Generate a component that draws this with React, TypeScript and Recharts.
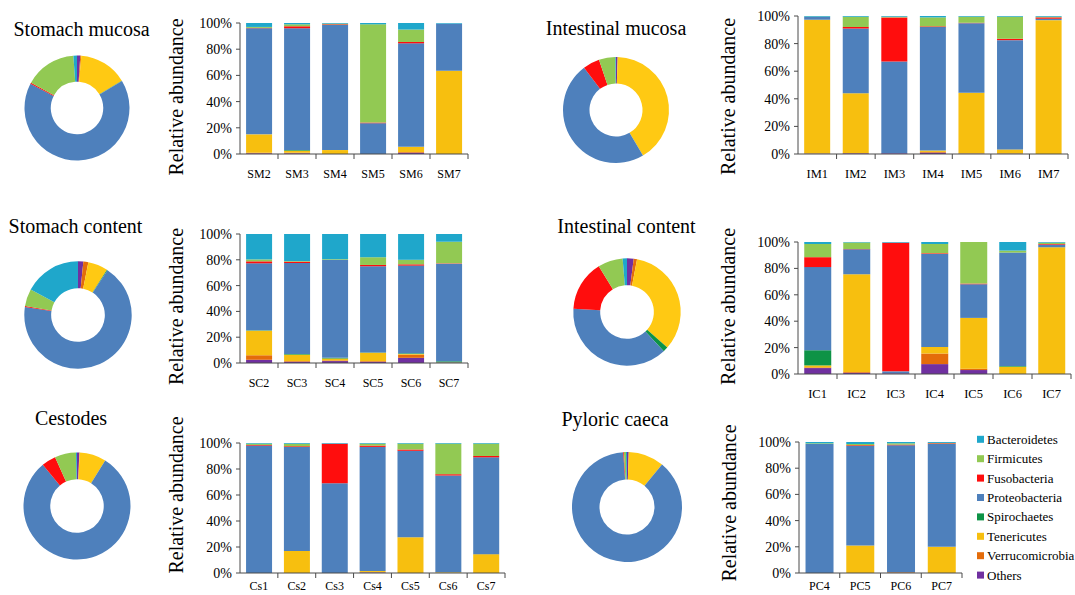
import React from 'react';
import { BarChart, Bar, XAxis, YAxis, PieChart, Pie, Cell } from 'recharts';

// Stack order (bottom -> top) and pie order (clockwise from 12 o'clock)
const phyla = ['Others', 'Verrucomicrobia', 'Tenericutes', 'Spirochaetes', 'Proteobacteria', 'Fusobacteria', 'Firmicutes', 'Bacteroidetes'];
const barColors = ['#7030A0', '#E46C0A', '#F7BF0F', '#0E9346', '#4E80BC', '#FF0D0D', '#92C953', '#1FA7CB'];
const pieColors = ['#7030A0', '#E46C0A', '#FFC913', '#0E9346', '#4E80BC', '#FF0D0D', '#92C953', '#1FA7CB'];
const legendLabels = ['Bacteroidetes', 'Firmicutes', 'Fusobacteria', 'Proteobacteria', 'Spirochaetes', 'Tenericutes', 'Verrucomicrobia', 'Others'];
const percentTicks = [0, 0.2, 0.4, 0.6, 0.8, 1];

// values per sample: [Others, Verrucomicrobia, Tenericutes, Spirochaetes, Proteobacteria, Fusobacteria, Firmicutes, Bacteroidetes]
const smSamples = ['SM2', 'SM3', 'SM4', 'SM5', 'SM6', 'SM7'];
const smValues = [
  [0.5, 0.5, 14, 0, 81, 0.3, 0.7, 3],
  [0.5, 0.5, 1.5, 0.5, 93, 1.5, 1.5, 1],
  [0, 0, 3, 0, 95.5, 0.5, 0.5, 0.5],
  [0, 0, 0, 0, 23.5, 0.5, 75, 1],
  [1, 0.5, 4, 0, 79, 1, 9.5, 5],
  [0, 0, 63.5, 0, 36, 0, 0, 0.5],
];
const smPie = [1, 0.3, 15, 0.1, 66.3, 0.4, 15.9, 1.1];

const imSamples = ['IM1', 'IM2', 'IM3', 'IM4', 'IM5', 'IM6', 'IM7'];
const imValues = [
  [0.3, 0, 97, 0, 2, 0, 0.2, 0.5],
  [0.5, 0, 43.5, 0, 47, 1, 7.5, 0.5],
  [0.5, 0, 0, 0, 66.5, 32, 0.5, 0.5],
  [1, 0.5, 1, 0, 89.5, 0.5, 6.5, 1],
  [0.3, 0, 44, 0, 50.5, 0.3, 4.4, 0.5],
  [0.3, 0, 3, 0, 79.2, 1, 16, 0.5],
  [0, 0, 97, 0, 1, 1, 0.5, 0.5],
];
const imPie = [0.5, 0, 41, 0, 48.2, 5.1, 5, 0.2];

const scSamples = ['SC2', 'SC3', 'SC4', 'SC5', 'SC6', 'SC7'];
const scValues = [
  [2.5, 3.5, 19, 0.3, 52, 1.5, 1.5, 19.7],
  [1, 0.5, 5, 0.5, 70.5, 1, 0.5, 21],
  [1.5, 0.5, 1.5, 0.5, 76, 0, 0.5, 19.5],
  [1, 0.5, 6.5, 0.2, 66.8, 1, 6, 18],
  [4, 2.5, 0.5, 0.5, 68, 1, 3.5, 20],
  [0.3, 0, 0.2, 0.8, 75.7, 0.3, 16.7, 6],
];
const scPie = [1.6, 1.5, 6, 0.2, 68.3, 0.3, 5.2, 17.2];

const icSamples = ['IC1', 'IC2', 'IC3', 'IC4', 'IC5', 'IC6', 'IC7'];
const icValues = [
  [4.5, 0.5, 1.5, 11.5, 63, 7.5, 10, 1.5],
  [1, 0.5, 74, 0, 19, 0.2, 5, 0.3],
  [0.5, 0, 0, 0, 1.5, 97.5, 0, 0.5],
  [7.5, 8, 5, 0, 70.5, 0.5, 7, 1.5],
  [3, 1, 38.5, 0, 25.5, 0.5, 31.5, 0],
  [0, 0, 5.5, 0.5, 86, 0, 1.5, 6.5],
  [0, 0, 96, 0, 2, 0.5, 1, 0.5],
];
const icPie = [2, 1, 33.5, 1.5, 38, 15.2, 7.5, 1.3];

const csSamples = ['Cs1', 'Cs2', 'Cs3', 'Cs4', 'Cs5', 'Cs6', 'Cs7'];
const csValues = [
  [0, 0, 0, 0, 98, 0.5, 1, 0.5],
  [0, 0, 17, 0, 80, 0.5, 2, 0.5],
  [0, 0, 0, 0, 69, 30.5, 0, 0.5],
  [0.5, 0, 1, 0, 95.5, 1, 1.5, 0.5],
  [0, 0, 27.5, 0, 66.5, 1, 4.5, 0.5],
  [0, 0, 0.5, 0, 74.5, 1, 23.5, 0.5],
  [0, 0, 14.5, 0, 74.5, 1, 9.5, 0.5],
];
const csPie = [0.7, 0.1, 8, 0, 79.9, 4.3, 6.4, 0.3];

const pcSamples = ['PC4', 'PC5', 'PC6', 'PC7'];
const pcValues = [
  [0, 0, 0, 0, 98.5, 0, 0.5, 1],
  [0, 0, 21, 0, 76, 0.5, 1, 1.5],
  [0, 0.5, 0, 0, 97, 0.5, 1, 1],
  [0, 0, 20, 0, 78.5, 0.5, 0.3, 0.7],
];
const pcPie = [0.5, 0, 10.5, 0, 88, 0.2, 0.6, 0.3];

const SERIF = "'Liberation Serif', 'Times New Roman', Times, serif";
const AXIS = '#4a4a4a';

function makeTick(bandWidth: number, tm: number, fs: number) {
  return (props: any) => {
    const { x, y, payload } = props;
    const axisY = y - tm;
    const bx = x + bandWidth / 2;
    return (
      <g>
        <line x1={bx} y1={axisY} x2={bx} y2={axisY + 5} stroke={AXIS} />
        <text x={x} y={y} dy="0.71em" textAnchor="middle" fontSize={fs} fill="#000" style={{ fontFamily: SERIF }}>{payload.value}</text>
      </g>
    );
  };
}

function StackPanel({ samples, values, l, t, r, b, fs, tm }: any) {
  const YW = 60, MT = 10, MR = 12, XH = 30;
  const data = samples.map((s: string, i: number) => {
    const row: any = { name: s };
    phyla.forEach((p, j) => { row[p] = values[i][j]; });
    return row;
  });
  const band = (r - l) / samples.length;
  return (
    <div style={{ position: 'absolute', left: l - YW, top: t - MT }}>
      <BarChart
        width={r - l + YW + MR}
        height={b - t + MT + XH}
        data={data}
        margin={{ top: MT, right: MR, bottom: 0, left: 0 }}
        stackOffset="expand"
        barCategoryGap="16%"
        style={{ fontFamily: SERIF }}
      >
        <XAxis
          dataKey="name"
          interval={0}
          tickLine={false}
          tickSize={0}
          tickMargin={tm}
          height={XH}
          axisLine={{ stroke: AXIS }}
          tick={makeTick(band, tm, fs)}
        />
        <YAxis
          width={YW}
          domain={[0, 1]}
          ticks={percentTicks}
          tickFormatter={(v: number) => Math.round(v * 100) + '%'}
          tickSize={4}
          tickMargin={4}
          axisLine={{ stroke: AXIS }}
          tickLine={{ stroke: AXIS }}
          tick={{ fontSize: 14, fill: '#000', fontFamily: SERIF }}
        />
        {phyla.map((p, j) => (
          <Bar key={p} dataKey={p} stackId="a" fill={barColors[j]} isAnimationActive={false} />
        ))}
      </BarChart>
    </div>
  );
}

function Donut({ values, cx, cy, r }: any) {
  const data = phyla.map((p, j) => ({ name: p, value: values[j] }));
  const S = 130;
  return (
    <div style={{ position: 'absolute', left: cx - S / 2, top: cy - S / 2 }}>
      <PieChart width={S} height={S} margin={{ top: 0, right: 0, bottom: 0, left: 0 }}>
        <Pie
          data={data}
          dataKey="value"
          cx={S / 2}
          cy={S / 2}
          innerRadius={r * 0.5}
          outerRadius={r}
          startAngle={90}
          endAngle={-270}
          stroke="none"
          isAnimationActive={false}
        >
          {data.map((d, j) => <Cell key={d.name} fill={pieColors[j]} />)}
        </Pie>
      </PieChart>
    </div>
  );
}

const titles = [
  { text: 'Stomach mucosa', x: 81.5, y: 36 },
  { text: 'Intestinal mucosa', x: 616, y: 35 },
  { text: 'Stomach content', x: 75.5, y: 233 },
  { text: 'Intestinal content', x: 626.5, y: 233 },
  { text: 'Cestodes', x: 71, y: 425 },
  { text: 'Pyloric caeca', x: 615, y: 426 },
];
const axisTitles = [
  { x: 176, y: 97 },
  { x: 728, y: 96.5 },
  { x: 176, y: 306.5 },
  { x: 728, y: 306.5 },
  { x: 176, y: 495 },
  { x: 729, y: 503 },
];

export default function App() {
  return (
    <div style={{ position: 'absolute', left: 0, top: 0, width: 1075, height: 595, background: '#fff', overflow: 'hidden', fontFamily: SERIF }}>
      <Donut values={smPie} cx={77} cy={108} r={52.5} />
      <Donut values={imPie} cx={615.5} cy={109.5} r={53} />
      <Donut values={scPie} cx={78} cy={314.5} r={53.7} />
      <Donut values={icPie} cx={626.5} cy={311.5} r={53.7} />
      <Donut values={csPie} cx={77} cy={506} r={53.5} />
      <Donut values={pcPie} cx={627} cy={507} r={55} />

      <StackPanel samples={smSamples} values={smValues} l={240} t={23} r={468} b={154} fs={12} tm={15} />
      <StackPanel samples={imSamples} values={imValues} l={798} t={16} r={1068} b={154} fs={12.5} tm={15} />
      <StackPanel samples={scSamples} values={scValues} l={240} t={234} r={468} b={363} fs={12} tm={15} />
      <StackPanel samples={icSamples} values={icValues} l={798} t={242} r={1071} b={374} fs={12.5} tm={15} />
      <StackPanel samples={csSamples} values={csValues} l={240} t={443} r={505} b={573} fs={12} tm={8} />
      <StackPanel samples={pcSamples} values={pcValues} l={799} t={442} r={962} b={573} fs={12} tm={8} />

      <svg width={1075} height={595} style={{ position: 'absolute', left: 0, top: 0, pointerEvents: 'none', fontFamily: SERIF }}>
        {titles.map((t) => (
          <text key={t.text} x={t.x} y={t.y} textAnchor="middle" fontSize={20} style={{ fontFamily: SERIF }} fill="#000">{t.text}</text>
        ))}
        {axisTitles.map((a, i) => (
          <text key={i} transform={`translate(${a.x},${a.y}) rotate(-90)`} textAnchor="middle" dominantBaseline="central" fontSize={20} style={{ fontFamily: SERIF }} fill="#000">Relative abundance</text>
        ))}
        {legendLabels.map((name, i) => {
          const y = 439.3 + i * 19.4;
          const c = barColors[phyla.indexOf(name)];
          return (
            <g key={name}>
              <rect x={977} y={y - 3.5} width={7} height={7} fill={c} />
              <text x={987} y={y + 4.5} fontSize={13} style={{ fontFamily: SERIF }} fill="#000">{name}</text>
            </g>
          );
        })}
      </svg>
    </div>
  );
}
